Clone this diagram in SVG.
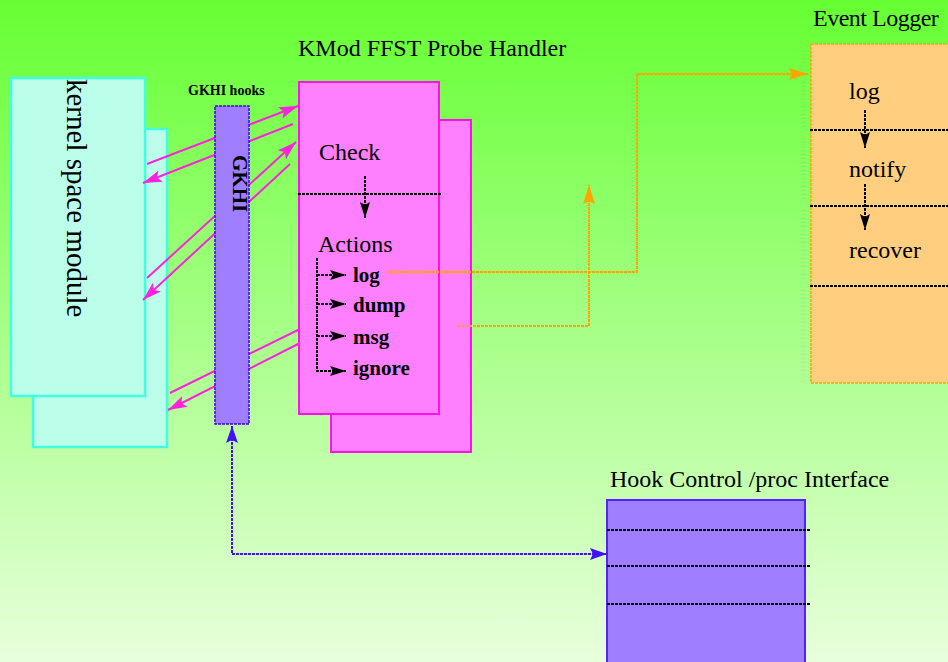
<svg xmlns="http://www.w3.org/2000/svg" width="948" height="662" viewBox="0 0 948 662">
<defs>
<linearGradient id="bg" x1="0" y1="0" x2="0" y2="1">
<stop offset="0" stop-color="#66ff33"/>
<stop offset="1" stop-color="#e8ffdc"/>
</linearGradient>
<marker id="mag" markerUnits="userSpaceOnUse" markerWidth="22" markerHeight="14" refX="19" refY="6" orient="auto"><path d="M0,0 L19,6 L0,12 L4,6 Z" fill="#ff22dd"/></marker>
<marker id="org" markerUnits="userSpaceOnUse" markerWidth="22" markerHeight="14" refX="19" refY="6" orient="auto"><path d="M0,0 L19,6 L0,12 L3,6 Z" fill="#ffa500"/></marker>
<marker id="blu" markerUnits="userSpaceOnUse" markerWidth="20" markerHeight="14" refX="17" refY="6" orient="auto-start-reverse"><path d="M0,0 L17,6 L0,12 L3,6 Z" fill="#4411ff"/></marker>
<marker id="blk" markerUnits="userSpaceOnUse" markerWidth="18" markerHeight="12" refX="16" refY="5" orient="auto"><path d="M0,0 L16,5 L0,10 L3,5 Z" fill="#000"/></marker>
</defs>
<style>
text{font-family:"Liberation Serif","Times New Roman",serif;fill:#000}
.t24{font-size:24px}
.b21{font-size:21px;font-weight:bold}
.kern{fill:#bbffea;stroke:#3fffe0;stroke-width:2.5}
.probe{fill:#ff80ff;stroke:#ff11ee;stroke-width:2}
.mag{stroke:#ff22dd;stroke-width:2;fill:none}
.org{stroke:#ffa500;stroke-width:2;fill:none;stroke-dasharray:3,1}
.blu{stroke:#4411ff;stroke-width:2;fill:none;stroke-dasharray:3,1}
.blk{stroke:#000;stroke-width:2;fill:none;stroke-dasharray:3,1}
.sep{stroke:#000;stroke-width:2;fill:none;stroke-dasharray:3,1}
</style>
<rect x="0" y="0" width="948" height="662" fill="url(#bg)"/>

<g id="kernel-module">
<rect class="kern" x="33" y="129" width="134" height="318"/>
<rect class="kern" x="11" y="78" width="134" height="318"/>
<text style="font-size:29px" transform="translate(67,79) rotate(90)">kernel space module</text>
</g>

<g id="probe-handler">
<text class="t24" x="298" y="56">KMod FFST Probe Handler</text>
<rect class="probe" x="331" y="120" width="140" height="332"/>
<rect class="probe" x="299" y="82" width="140" height="332"/>
<line class="sep" x1="298" y1="194" x2="442" y2="194"/>
<text class="t24" x="319" y="160">Check</text>
<text class="t24" x="318" y="252">Actions</text>
<text class="b21" x="353" y="282">log</text>
<text class="b21" x="353" y="312">dump</text>
<text class="b21" x="353" y="344">msg</text>
<text class="b21" x="353" y="375">ignore</text>
</g>

<g id="event-logger">
<text class="t24" x="813" y="26" letter-spacing="-0.5">Event Logger</text>
<rect x="811" y="44" width="150" height="339" fill="#ffcf7f" stroke="#ffa500" stroke-width="1.5" stroke-dasharray="3,1"/>
<line class="sep" x1="810" y1="130" x2="948" y2="130"/>
<line class="sep" x1="810" y1="206" x2="948" y2="206"/>
<line class="sep" x1="810" y1="286" x2="948" y2="286"/>
<text class="t24" x="849" y="99">log</text>
<text class="t24" x="849" y="177">notify</text>
<text class="t24" x="849" y="258">recover</text>
</g>

<g id="hook-control">
<text class="t24" x="610" y="487">Hook Control /proc Interface</text>
<rect x="607" y="500" width="198" height="170" fill="#9f7fff" stroke="#5522ff" stroke-width="2"/>
<line class="sep" x1="607" y1="530" x2="810" y2="530"/>
<line class="sep" x1="607" y1="566" x2="810" y2="566"/>
<line class="sep" x1="607" y1="604" x2="810" y2="604"/>
</g>

<g id="connectors">
<line class="mag" x1="147" y1="164" x2="298" y2="106" marker-end="url(#mag)"/>
<line class="mag" x1="293" y1="124" x2="143" y2="183" marker-end="url(#mag)"/>
<line class="mag" x1="147" y1="278" x2="296" y2="142" marker-end="url(#mag)"/>
<line class="mag" x1="290" y1="164" x2="143" y2="300" marker-end="url(#mag)"/>
<line class="mag" x1="300" y1="329" x2="170" y2="393"/>
<line class="mag" x1="300" y1="343" x2="168" y2="410" marker-end="url(#mag)"/>
<path class="org" d="M388,272 H637 V74 H808" marker-end="url(#org)"/>
<path class="org" d="M457,326 H589 V185" marker-end="url(#org)"/>
<path class="blu" d="M232,426 V554 H607" marker-start="url(#blu)" marker-end="url(#blu)"/>
<line class="blk" x1="365" y1="176" x2="365" y2="218" marker-end="url(#blk)"/>
<path class="blk" d="M317,258 V371 H346" marker-end="url(#blk)"/>
<line class="blk" x1="317" y1="275" x2="346" y2="275" marker-end="url(#blk)"/>
<line class="blk" x1="317" y1="304" x2="346" y2="304" marker-end="url(#blk)"/>
<line class="blk" x1="317" y1="336" x2="346" y2="336" marker-end="url(#blk)"/>
<line class="blk" x1="865" y1="110" x2="865" y2="148" marker-end="url(#blk)"/>
<line class="blk" x1="865" y1="184" x2="865" y2="230" marker-end="url(#blk)"/>
</g>

<g id="gkhi">
<text x="188" y="95" style="font-size:14px;font-weight:bold">GKHI hooks</text>
<rect x="215" y="106" width="34" height="318" fill="#9f7fff" stroke="#3f00ff" stroke-width="1.5" stroke-dasharray="3,1"/>
<text transform="translate(233,155) rotate(90)" style="font-size:21px;font-weight:bold">GKHI</text>
</g>
</svg>
